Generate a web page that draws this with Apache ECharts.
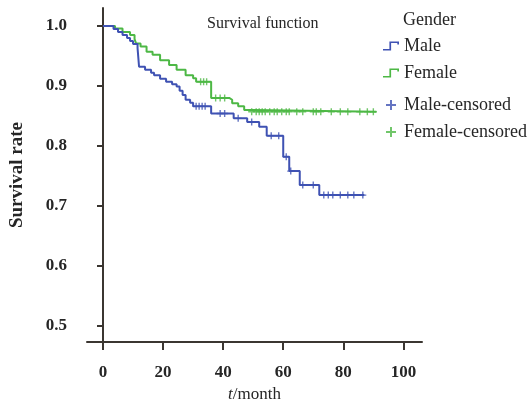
<!DOCTYPE html>
<html lang="en">
<head>
    <meta charset="UTF-8">
    <title>Survival function</title>
    <script src="https://cdn.jsdelivr.net/npm/echarts/dist/echarts.min.js"></script>
    <style>
        body { margin: 0; padding: 0; background: #fff; }
        #chart { width: 529px; height: 404px; }
    </style>
</head>
<body>
    <div id="chart"></div>
    <script>
        // Kaplan-Meier steps: [month, survival rate]
        const maleSteps = [
            [0, 1.0], [3.5, 0.995], [5, 0.99], [6.5, 0.985], [8, 0.98], [9, 0.975], [10, 0.97],
            [11.5, 0.963], [12, 0.932], [14, 0.927], [16, 0.922], [17, 0.918], [19, 0.912],
            [21, 0.907], [23, 0.903], [24.5, 0.899], [25.5, 0.892], [26.5, 0.885], [27.5, 0.877],
            [29, 0.872], [30, 0.866], [36, 0.854], [43.5, 0.846], [48, 0.840], [52, 0.832],
            [54.5, 0.817], [60, 0.782], [62, 0.758], [65.5, 0.735], [72, 0.718], [87, 0.718]
        ];
        const femaleSteps = [
            [0, 1.0], [4, 0.996], [6.5, 0.99], [9, 0.985], [10.5, 0.978], [11, 0.971],
            [12.5, 0.966], [14.5, 0.957], [16.5, 0.952], [19, 0.943], [22, 0.935], [24.5, 0.927],
            [27.5, 0.918], [30, 0.913], [31, 0.907], [36, 0.880], [42, 0.877], [43, 0.871],
            [45, 0.866], [47, 0.860], [50, 0.857], [91, 0.857]
        ];
        const maleCensored = [
            [31, 0.866], [32, 0.866], [33, 0.866], [34, 0.866], [39, 0.854], [40.5, 0.854],
            [45, 0.846], [49.5, 0.840], [56, 0.817], [58.5, 0.817], [61, 0.782], [62.5, 0.758],
            [66.5, 0.735], [70, 0.735], [73.5, 0.718], [75, 0.718], [76.5, 0.718], [79, 0.718],
            [81.5, 0.718], [83.5, 0.718], [86.5, 0.718]
        ];
        const femaleCensored = [
            [32.5, 0.907], [33.5, 0.907], [34.5, 0.907], [37.5, 0.880], [39, 0.880], [40.5, 0.880],
            [49.5, 0.857], [51, 0.857], [52, 0.857], [53, 0.857], [54, 0.857], [55.5, 0.857],
            [57, 0.857], [58, 0.857], [59.5, 0.857], [61, 0.857], [62, 0.857], [64.5, 0.857],
            [66.5, 0.857], [70, 0.857], [71, 0.857], [72.5, 0.857], [76, 0.857], [79, 0.857],
            [81.5, 0.857], [85.5, 0.857], [88, 0.857], [90, 0.857]
        ];
        const xTicks = [0, 20, 40, 60, 80, 100];
        const yTicks = [0.5, 0.6, 0.7, 0.8, 0.9, 1.0];

        const blue = '#3f52b3';
        const green = '#4db845';
        const axisColor = '#3b3631';
        const textColor = '#262626';
        const serif = '"Liberation Serif", "DejaVu Serif", serif';

        const plus = 'path://M4,0h2v4h4v2h-4v4h-2v-4h-4v-2h4z';
        const stepIcon = 'path://M0,8h6v-7h9v3h-1.6v-1.4h-5.8v7h-7.6z';

        const legendText = { fontFamily: serif, fontSize: 18, color: textColor };

        const chart = echarts.init(document.getElementById('chart'));
        chart.setOption({
            animation: false,
            title: [
                { text: 'Survival function', left: 202, top: 11,
                  textStyle: { fontFamily: serif, fontSize: 16, fontWeight: 'normal', color: textColor } },
                { text: 'Gender', left: 398, top: 6,
                  textStyle: { fontFamily: serif, fontSize: 18, fontWeight: 'normal', color: textColor } }
            ],
            legend: [
                {
                    orient: 'vertical', left: 383, top: 37, padding: 0,
                    itemWidth: 16, itemHeight: 10, itemGap: 9,
                    textStyle: legendText,
                    data: [
                        { name: 'Male', icon: stepIcon },
                        { name: 'Female', icon: stepIcon }
                    ]
                },
                {
                    orient: 'vertical', left: 386, top: 96, padding: 0,
                    itemWidth: 16, itemHeight: 10, itemGap: 9,
                    textStyle: legendText,
                    data: [
                        { name: 'Male-censored', icon: plus },
                        { name: 'Female-censored', icon: plus }
                    ]
                }
            ],
            grid: { left: 87, right: 107, top: 8, bottom: 62, outerBoundsMode: 'none' },
            xAxis: {
                type: 'value', min: -5.33, max: 106.2,
                name: '{i|t}/month', nameLocation: 'middle', nameGap: 44, nameMoveOverlap: false,
                nameTextStyle: { fontFamily: serif, fontSize: 17, color: textColor,
                    rich: { i: { fontFamily: serif, fontSize: 17, fontStyle: 'italic', color: textColor } } },
                axisLine: { lineStyle: { color: axisColor, width: 2 } },
                axisTick: { show: true, length: 8, lineStyle: { color: axisColor, width: 2 }, customValues: xTicks },
                axisLabel: { customValues: xTicks, margin: 22, fontFamily: serif, fontSize: 17,
                    fontWeight: 'bold', color: textColor },
                splitLine: { show: false }
            },
            yAxis: {
                type: 'value', min: 0.473, max: 1.03,
                name: 'Survival rate', nameLocation: 'middle', nameGap: 60, nameMoveOverlap: false,
                nameTextStyle: { fontFamily: serif, fontSize: 19, fontWeight: 'bold', color: textColor },
                axisLine: { show: true, lineStyle: { color: axisColor, width: 2 } },
                axisTick: { show: true, length: 6, lineStyle: { color: axisColor, width: 2 }, customValues: yTicks },
                axisLabel: { customValues: yTicks, margin: 20, fontFamily: serif, fontSize: 17,
                    fontWeight: 'bold', color: textColor, formatter: v => v.toFixed(1) },
                splitLine: { show: false }
            },
            series: [
                { name: 'Male', type: 'line', step: 'end', data: maleSteps, showSymbol: false,
                  lineStyle: { color: blue, width: 2 }, itemStyle: { color: blue }, z: 3 },
                { name: 'Female', type: 'line', step: 'end', data: femaleSteps, showSymbol: false,
                  lineStyle: { color: green, width: 2 }, itemStyle: { color: green }, z: 2 },
                { name: 'Male-censored', type: 'scatter', data: maleCensored, symbol: plus, symbolSize: 7,
                  itemStyle: { color: blue }, z: 4 },
                { name: 'Female-censored', type: 'scatter', data: femaleCensored, symbol: plus, symbolSize: 7,
                  itemStyle: { color: green }, z: 4 }
            ]
        });
    </script>
</body>
</html>
